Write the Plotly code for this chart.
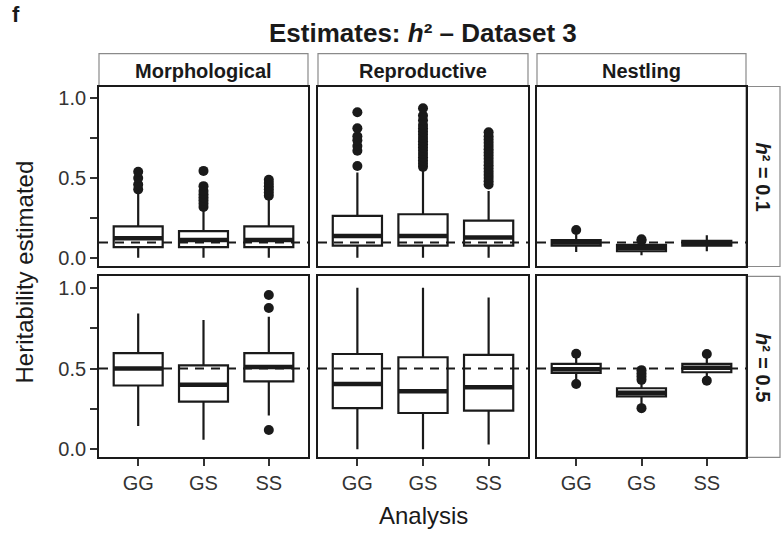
import plotly.graph_objects as go
from plotly.subplots import make_subplots

# ---------------- data ----------------
PANELS = ["Morphological", "Reproductive", "Nestling"]
ANALYSES = ["GG", "GS", "SS"]
H2_TRUE = [0.1, 0.5]
ROW_LABELS = ["<b><i>h</i>² = 0.1</b>", "<b><i>h</i>² = 0.5</b>"]

# h2 = 0.1 : [panel][analysis]
LOWER_01 = [[0.005, 0.005, 0.005], [0.005, 0.005, 0.005], [0.04, 0.02, 0.045]]
Q1_01 = [[0.07, 0.07, 0.07], [0.08, 0.08, 0.08], [0.08, 0.045, 0.08]]
MED_01 = [[0.125, 0.115, 0.115], [0.14, 0.14, 0.13], [0.10, 0.065, 0.097]]
Q3_01 = [[0.20, 0.17, 0.20], [0.265, 0.275, 0.235], [0.115, 0.085, 0.11]]
UPPER_01 = [[0.41, 0.30, 0.37], [0.535, 0.555, 0.42], [0.15, 0.10, 0.145]]
OUT_01 = [
    [[0.43, 0.46, 0.50, 0.54],
     [0.32, 0.34, 0.36, 0.38, 0.40, 0.42, 0.45, 0.545],
     [0.39, 0.41, 0.43, 0.45, 0.47, 0.49]],
    [[0.575, 0.67, 0.70, 0.735, 0.76, 0.81, 0.91],
     [0.57, 0.59, 0.61, 0.63, 0.65, 0.67, 0.69, 0.71, 0.73, 0.75, 0.77, 0.79, 0.81, 0.83, 0.86, 0.89, 0.935],
     [0.46, 0.48, 0.50, 0.52, 0.54, 0.56, 0.58, 0.60, 0.62, 0.64, 0.66, 0.68, 0.70, 0.72, 0.74, 0.76, 0.785]],
    [[0.177], [0.11, 0.12], []],
]

# h2 = 0.5 : [panel][analysis]
LOWER_05 = [[0.145, 0.06, 0.21], [0.0, 0.0, 0.03], [0.42, 0.28, 0.45]]
Q1_05 = [[0.395, 0.295, 0.42], [0.255, 0.225, 0.24], [0.473, 0.328, 0.477]]
MED_05 = [[0.50, 0.40, 0.51], [0.405, 0.36, 0.385], [0.495, 0.35, 0.505]]
Q3_05 = [[0.595, 0.52, 0.595], [0.59, 0.57, 0.585], [0.529, 0.378, 0.529]]
UPPER_05 = [[0.84, 0.80, 0.82], [1.0, 1.0, 0.94], [0.57, 0.41, 0.565]]
OUT_05 = [
    [[], [], [0.12, 0.875, 0.955]],
    [[], [], []],
    [[0.404, 0.591], [0.255, 0.43, 0.45, 0.47, 0.49], [0.425, 0.59]],
]

ROWS = [
    (LOWER_01, Q1_01, MED_01, Q3_01, UPPER_01, OUT_01),
    (LOWER_05, Q1_05, MED_05, Q3_05, UPPER_05, OUT_05),
]

# ---------------- style ----------------
W, H = 782, 534
INK = "#1a1a1a"
FONT = "Liberation Sans, Arial, Helvetica, sans-serif"
BOX_W = 0.75
X_RANGE = [-0.6, 2.6]
Y_RANGE = [-0.05, 1.07]

# panel pixel geometry (left, right) and (top, bottom)
COLS_PX = [(99, 308), (318, 528), (537, 746)]
ROWS_PX = [(87, 268), (278, 460)]
STRIP_TOP = 54
RSTRIP = (746, 780)


def px_x(v):
    return v / W


def px_y(v):
    return 1 - v / H


fig = make_subplots(rows=2, cols=3)

for r, (lo, q1, med, q3, hi, outs) in enumerate(ROWS):
    for c in range(3):
        xs = list(range(len(ANALYSES)))
        fig.add_trace(go.Box(
            x=xs, q1=q1[c], median=med[c], q3=q3[c],
            lowerfence=lo[c], upperfence=hi[c],
            width=BOX_W, whiskerwidth=0, fillcolor="white",
            line=dict(color=INK, width=2.2), boxpoints=False,
            showlegend=False, hoverinfo="skip"),
            row=r + 1, col=c + 1)
        # thick median bars
        mx, my = [], []
        for i, m in enumerate(med[c]):
            mx += [i - BOX_W / 2, i + BOX_W / 2, None]
            my += [m, m, None]
        fig.add_trace(go.Scatter(x=mx, y=my, mode="lines",
                                 line=dict(color=INK, width=4.5),
                                 showlegend=False, hoverinfo="skip"),
                      row=r + 1, col=c + 1)
        # outliers
        ox, oy = [], []
        for i, pts in enumerate(outs[c]):
            ox += [i] * len(pts)
            oy += pts
        if ox:
            fig.add_trace(go.Scatter(x=ox, y=oy, mode="markers",
                                     marker=dict(color=INK, size=10),
                                     showlegend=False, hoverinfo="skip"),
                          row=r + 1, col=c + 1)
        # true h2 dashed line
        fig.add_trace(go.Scatter(x=X_RANGE, y=[H2_TRUE[r]] * 2, mode="lines",
                                 line=dict(color=INK, width=2, dash="9px,7px"),
                                 showlegend=False, hoverinfo="skip"),
                      row=r + 1, col=c + 1)

        bottom = r == 1
        left = c == 0
        fig.update_xaxes(
            domain=[px_x(COLS_PX[c][0]), px_x(COLS_PX[c][1])],
            range=X_RANGE, tickvals=xs, ticktext=ANALYSES,
            showticklabels=bottom, ticks="outside" if bottom else "",
            ticklen=7, tickwidth=1.6, tickcolor="#333333",
            tickfont=dict(family=FONT, size=20, color="#333333"),
            showline=True, mirror=True, linecolor=INK, linewidth=1.8,
            showgrid=False, zeroline=False, fixedrange=True,
            row=r + 1, col=c + 1)
        fig.update_yaxes(
            domain=[px_y(ROWS_PX[r][1]), px_y(ROWS_PX[r][0])],
            range=Y_RANGE, tickvals=[0, 0.25, 0.5, 0.75, 1.0],
            ticktext=["0.0", "", "0.5", "", "1.0"],
            showticklabels=left, ticks="outside" if left else "",
            ticklen=7, tickwidth=1.6, tickcolor="#333333",
            tickfont=dict(family=FONT, size=20, color="#333333"),
            showline=True, mirror=True, linecolor=INK, linewidth=1.8,
            showgrid=False, zeroline=False, fixedrange=True,
            row=r + 1, col=c + 1)

shapes = []
annotations = []
STRIP_LINE = dict(color="#8a8a8a", width=1.2)
for c, name in enumerate(PANELS):
    x0, x1 = COLS_PX[c]
    shapes.append(dict(type="rect", xref="paper", yref="paper",
                       x0=px_x(x0), x1=px_x(x1), y0=px_y(ROWS_PX[0][0]), y1=px_y(STRIP_TOP),
                       line=STRIP_LINE, fillcolor="white", layer="below"))
    annotations.append(dict(text=f"<b>{name}</b>", xref="paper", yref="paper",
                            x=px_x((x0 + x1) / 2), y=px_y((STRIP_TOP + ROWS_PX[0][0]) / 2 + 1),
                            showarrow=False, xanchor="center", yanchor="middle",
                            font=dict(family=FONT, size=20, color=INK)))
for r, lab in enumerate(ROW_LABELS):
    y0, y1 = ROWS_PX[r]
    shapes.append(dict(type="rect", xref="paper", yref="paper",
                       x0=px_x(RSTRIP[0]), x1=px_x(RSTRIP[1]), y0=px_y(y1), y1=px_y(y0),
                       line=STRIP_LINE, fillcolor="white", layer="below"))
    annotations.append(dict(text=lab, xref="paper", yref="paper",
                            x=px_x((RSTRIP[0] + RSTRIP[1]) / 2), y=px_y((y0 + y1) / 2),
                            showarrow=False, textangle=90, xanchor="center", yanchor="middle",
                            font=dict(family=FONT, size=20, color=INK)))

annotations += [
    dict(text="<b>f</b>", xref="paper", yref="paper", x=px_x(10), y=px_y(15),
         showarrow=False, xanchor="left", yanchor="middle",
         font=dict(family=FONT, size=22, color=INK)),
    dict(text="<b>Estimates: <i>h</i>² – Dataset 3</b>", xref="paper", yref="paper",
         x=px_x(423), y=px_y(33), showarrow=False, xanchor="center", yanchor="middle",
         font=dict(family=FONT, size=26, color=INK)),
    dict(text="Heritability estimated", xref="paper", yref="paper",
         x=px_x(24), y=px_y(274), showarrow=False, textangle=-90,
         xanchor="center", yanchor="middle",
         font=dict(family=FONT, size=24, color=INK)),
    dict(text="Analysis", xref="paper", yref="paper",
         x=px_x(423), y=px_y(518), showarrow=False, xanchor="center", yanchor="middle",
         font=dict(family=FONT, size=24, color=INK)),
]

fig.update_layout(
    width=W, height=H, margin=dict(l=0, r=0, t=0, b=0),
    paper_bgcolor="white", plot_bgcolor="white",
    shapes=shapes, annotations=annotations, showlegend=False,
    font=dict(family=FONT, color=INK),
)

fig.write_html("out.html")
